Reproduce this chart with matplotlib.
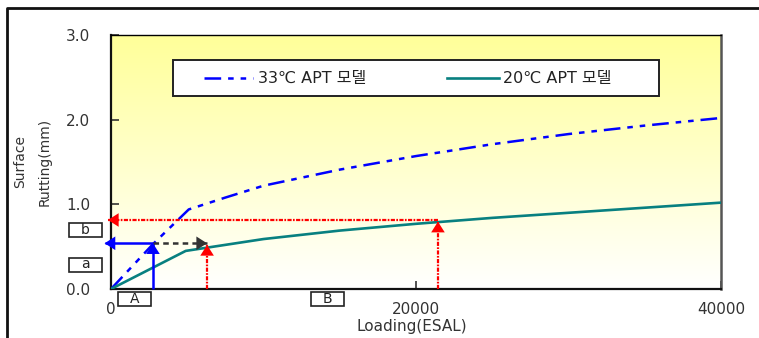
import numpy as np
import matplotlib
matplotlib.use('Agg')
import matplotlib.pyplot as plt
from matplotlib.colors import LinearSegmentedColormap
from matplotlib.patches import Rectangle
from matplotlib.lines import Line2D

plt.rcParams['font.family'] = ['DejaVu Sans', 'Noto Sans CJK KR']
plt.rcParams['lines.scale_dashes'] = False

# ---- data
esal_33 = [0, 2750, 5100, 7500, 10000, 15000, 20000, 25000, 30000, 35000, 40000]
rut_33 = [0, 0.53, 0.94, 1.08, 1.22, 1.41, 1.57, 1.71, 1.83, 1.93, 2.02]
esal_20 = [0, 4900, 10000, 15000, 20000, 25000, 30000, 35000, 40000]
rut_20 = [0, 0.45, 0.59, 0.69, 0.77, 0.84, 0.90, 0.96, 1.02]
label_33 = '33℃ APT 모델'
label_20 = '20℃ APT 모델'

# reading arrows
a_esal, a_rut = 2750, 0.54        # 33C curve, load A
b_esal, b_rut = 6300, 0.52        # 20C curve at same rut
c_esal, c_rut = 21440, 0.815      # 20C curve, load B

xticks = [0, 20000, 40000]
yticks = [0, 1, 2, 3]
ytick_labels = ['0.0', '1.0', '2.0', '3.0']

BLUE = '#0000ff'
TEAL = '#088080'
DASH_33 = (12, 5, 4, 5, 4, 5)

W, H = 759, 338
fig = plt.figure(figsize=(W / 100, H / 100), dpi=100)
ax = fig.add_axes([111 / W, 1 - 289 / H, 610 / W, 254 / H])

# background gradient
cmap = LinearSegmentedColormap.from_list('yw', ['#ffffff', '#ffff99'])
grad = np.linspace(1, 0, 256).reshape(-1, 1)
ax.imshow(grad, cmap=cmap, extent=[0, 1, 0, 1], transform=ax.transAxes,
          aspect='auto', zorder=0)

ax.plot(esal_33, rut_33, color=BLUE, lw=1.8, dashes=DASH_33, zorder=3)
ax.plot(esal_20, rut_20, color=TEAL, lw=1.9, zorder=3)


def arrow(x0, y0, x1, y1, color, dashes=None, lw=1.8):
    if dashes is None:
        ax.plot([x0, x1], [y0, y1], color=color, lw=lw, clip_on=False, zorder=4,
                solid_capstyle='butt')
    else:
        ax.plot([x0, x1], [y0, y1], color=color, lw=lw, dashes=dashes,
                clip_on=False, zorder=4)
    ax.annotate('', xy=(x1, y1), xytext=(x0, y0),
                arrowprops=dict(arrowstyle='-|>,head_length=0.55,head_width=0.35',
                                color=color, lw=0, mutation_scale=14,
                                shrinkA=0, shrinkB=0),
                annotation_clip=False, zorder=5)


red_dash = (3, 1, 1.2, 1)
arrow(a_esal, 0, a_esal, a_rut, BLUE)
arrow(a_esal, a_rut, -420, a_rut, BLUE)
arrow(a_esal, a_rut, b_esal, a_rut, '#333333', dashes=(4, 3))
arrow(b_esal, 0, b_esal, b_rut, '#ff0000', dashes=red_dash, lw=1.6)
arrow(c_esal, 0, c_esal, c_rut - 0.02, '#ff0000', dashes=red_dash, lw=1.6)
arrow(c_esal, c_rut, -200, c_rut, '#ff0000', dashes=red_dash, lw=1.6)

ax.set_xlim(0, 40000)
ax.set_ylim(0, 3)
ax.set_xticks(xticks)
ax.set_xticklabels([str(t) for t in xticks])
ax.set_yticks(yticks)
ax.set_yticklabels(ytick_labels)
ax.tick_params(direction='in', length=6, width=1.2, colors='#333333',
               labelsize=11)
ax.tick_params(axis='x', pad=9)
ax.tick_params(axis='y', pad=15)
for s in ['left', 'bottom']:
    ax.spines[s].set_linewidth(1.6)
    ax.spines[s].set_color('#111111')
ax.spines['top'].set_linewidth(1.0)
ax.spines['right'].set_linewidth(1.8)
ax.spines['right'].set_color('#555555')

# legend box, drawn by hand to match the original placement
fig.patches.append(Rectangle((173 / W, 1 - 96 / H), 486 / W, 36 / H,
                             transform=fig.transFigure, facecolor='white',
                             edgecolor='#222222', lw=1.4, zorder=6))
ly = 1 - 78 / H
fig.lines.append(Line2D([204 / W, 253 / W], [ly, ly], transform=fig.transFigure,
                        color=BLUE, lw=1.8, dashes=DASH_33, zorder=7))
fig.text(258 / W, ly, label_33, ha='left', va='center', fontsize=11.5,
         color='#222222', zorder=7)
fig.lines.append(Line2D([447 / W, 499 / W], [ly, ly], transform=fig.transFigure,
                        color=TEAL, lw=1.9, zorder=7))
fig.text(503 / W, ly, label_20, ha='left', va='center', fontsize=11.5,
         color='#222222', zorder=7)

fig.text(412 / W, 1 - 327 / H, 'Loading(ESAL)', ha='center', va='center',
         fontsize=11, color='#333333')
fig.text(20 / W, 1 - 162 / H, 'Surface', rotation=90, ha='center', va='center',
         fontsize=10, color='#333333')
fig.text(45 / W, 1 - 162 / H, 'Rutting(mm)', rotation=90, ha='center', va='center',
         fontsize=10, color='#333333')

# small label boxes
for lab, cx, cy in [('b', 85.5, 230), ('a', 85.5, 264.5), ('A', 134.5, 299), ('B', 327, 299)]:
    fig.patches.append(Rectangle(((cx - 16.5) / W, 1 - (cy + 7) / H), 33 / W, 14 / H,
                                 transform=fig.transFigure, fill=False,
                                 edgecolor='#222222', lw=1.2))
    fig.text(cx / W, 1 - cy / H, lab, ha='center', va='center', fontsize=10,
             color='#222222')

# outer frame (top and left edges only)
fig.lines.append(Line2D([7 / W, 7 / W, 1], [0, 1 - 8 / H, 1 - 8 / H],
                        transform=fig.transFigure, color='#111111', lw=2))

fig.savefig('out.png', dpi=100)
